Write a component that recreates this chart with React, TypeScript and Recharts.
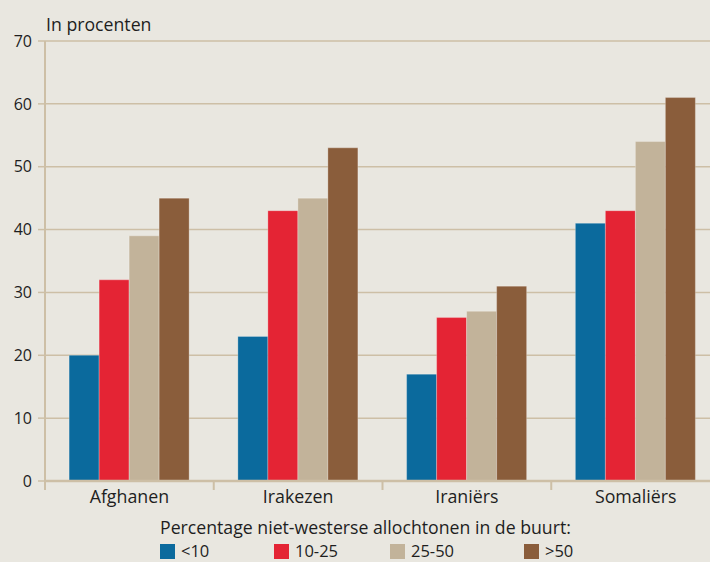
import React from 'react';
import { BarChart, Bar, XAxis, YAxis, CartesianGrid, Legend } from 'recharts';

const categories = ['Afghanen', 'Irakezen', 'Iraniërs', 'Somaliërs'];
const seriesLt10 = [20, 23, 17, 41];
const series10to25 = [32, 43, 26, 43];
const series25to50 = [39, 45, 27, 54];
const seriesGt50 = [45, 53, 31, 61];
const seriesNames = ['<10', '10-25', '25-50', '>50'];
const yTicks = [0, 10, 20, 30, 40, 50, 60, 70];

const colors = ['#0b6a9d', '#e42434', '#c2b39a', '#8a5d3b'];
const keys = ['s1', 's2', 's3', 's4'];

const data = categories.map((c, i) => ({
  name: c,
  s1: seriesLt10[i],
  s2: series10to25[i],
  s3: series25to50[i],
  s4: seriesGt50[i],
}));

const CHART_W = 720;
const CHART_H = 562;
const Y_W = 45;
const BG = '#e9e7e0';
const LINE = '#cdbfa6';
const TXT = '#1e1e1e';
const FONT = '"Open Sans", Lato, sans-serif';

const halfBand = (CHART_W - Y_W) / categories.length / 2;

const XTick = (props: any) => {
  const { x, y, payload } = props;
  return (
    <g>
      <line x1={x - halfBand} x2={x - halfBand} y1={y} y2={y + 9} stroke={LINE} strokeWidth={2} />
      <text x={x} y={y + 22} textAnchor="middle" fontSize={17.8} fill={TXT} fontFamily={FONT}>
        {payload.value}
      </text>
    </g>
  );
};

const widths = [114, 116, 134, 60];

const LegendContent = () => (
  <div style={{ fontFamily: FONT, color: TXT, textAlign: 'left', paddingLeft: 160 }}>
    <div style={{ fontSize: 17.7, lineHeight: '20px', height: 20, whiteSpace: 'nowrap' }}>
      Percentage niet-westerse allochtonen in de buurt:
    </div>
    <div style={{ display: 'flex', marginTop: 6 }}>
      {seriesNames.map((n, i) => (
        <div key={n} style={{ width: widths[i], display: 'flex', alignItems: 'center' }}>
          <span style={{ display: 'inline-block', width: 15, height: 15, background: colors[i], marginRight: 6 }} />
          <span style={{ fontSize: 16.5, lineHeight: '16px' }}>{n}</span>
        </div>
      ))}
    </div>
  </div>
);

export default function App() {
  return (
    <div style={{ position: 'fixed', left: 0, top: 0, width: 710, height: 562, overflow: 'hidden', background: BG }}>
      <BarChart
        width={CHART_W}
        height={CHART_H}
        data={data}
        margin={{ top: 41, right: 0, left: 0, bottom: 51 }}
        barCategoryGap="14.3%"
        barGap={0}
      >
        <CartesianGrid vertical={false} stroke={LINE} strokeWidth={1.5} />
        <YAxis
          width={Y_W}
          domain={[0, 70]}
          ticks={yTicks}
          interval={0}
          tickSize={7}
          tickMargin={6}
          axisLine={{ stroke: LINE, strokeWidth: 2 }}
          tickLine={{ stroke: LINE, strokeWidth: 1.5 }}
          tick={{ fill: TXT, fontSize: 16, fontFamily: FONT }}
          label={(p: any) => (
            <text x={46} y={31} fontSize={17.7} fill={TXT} fontFamily={FONT}>
              In procenten
            </text>
          )}
        />
        <XAxis
          dataKey="name"
          height={30}
          tickSize={0}
          tickMargin={0}
          tickLine={false}
          axisLine={{ stroke: LINE, strokeWidth: 2.5 }}
          tick={<XTick />}
          interval={0}
        />
        <Legend
          layout="horizontal"
          verticalAlign="middle"
          align="center"
          wrapperStyle={{ top: 517, left: 0, width: 710 }}
          content={<LegendContent />}
        />
        {keys.map((k, i) => (
          <Bar
            key={k}
            dataKey={k}
            name={seriesNames[i]}
            fill={colors[i]}
            stroke="rgba(255,255,255,0.25)"
            strokeWidth={1}
            isAnimationActive={false}
          />
        ))}
      </BarChart>
    </div>
  );
}
